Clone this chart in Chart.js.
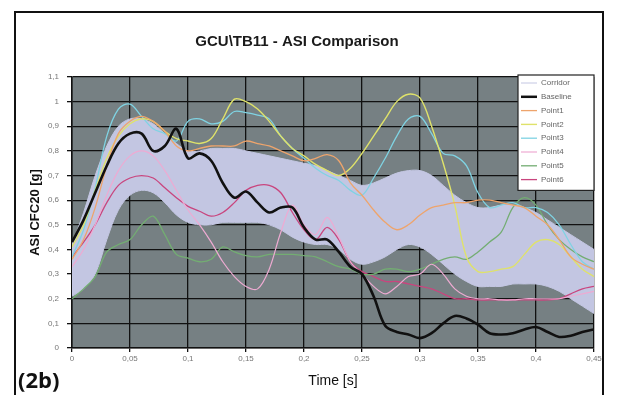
<!DOCTYPE html>
<html>
<head>
<meta charset="utf-8">
<script src="https://cdn.jsdelivr.net/npm/chart.js@4.4.1/dist/chart.umd.min.js"></script>
<style>
  html, body { margin: 0; padding: 0; background: #fff; }
  #wrap { width: 617px; height: 395px; }
</style>
</head>
<body>
<div id="wrap"><canvas id="asiChart" width="617" height="395"></canvas></div>
<script>
// time axis [s]
const time = [0, 0.01, 0.02, 0.03, 0.04, 0.05, 0.06, 0.07, 0.08, 0.09,
  0.1, 0.11, 0.12, 0.13, 0.14, 0.15, 0.16, 0.17, 0.18, 0.19,
  0.2, 0.21, 0.22, 0.23, 0.24, 0.25, 0.26, 0.27, 0.28, 0.29,
  0.3, 0.31, 0.32, 0.33, 0.34, 0.35, 0.36, 0.37, 0.38, 0.39,
  0.4, 0.41, 0.42, 0.43, 0.44, 0.45];

const corridorUpper = [0.42, 0.55, 0.70, 0.82, 0.90, 0.93, 0.93, 0.91, 0.87, 0.83,
  0.80, 0.80, 0.81, 0.81, 0.81, 0.80, 0.79, 0.78, 0.77, 0.76,
  0.75, 0.74, 0.72, 0.70, 0.68, 0.66, 0.67, 0.69, 0.71, 0.72,
  0.72, 0.70, 0.66, 0.62, 0.59, 0.57, 0.57, 0.58, 0.58, 0.57,
  0.55, 0.52, 0.49, 0.46, 0.43, 0.40];
const corridorLower = [0.21, 0.24, 0.30, 0.44, 0.56, 0.62, 0.64, 0.63, 0.59, 0.54,
  0.51, 0.50, 0.50, 0.51, 0.51, 0.51, 0.51, 0.50, 0.48, 0.45,
  0.43, 0.42, 0.42, 0.40, 0.36, 0.34, 0.35, 0.37, 0.40, 0.42,
  0.41, 0.38, 0.34, 0.30, 0.27, 0.25, 0.25, 0.25, 0.26, 0.26,
  0.26, 0.25, 0.23, 0.20, 0.17, 0.14];
const baseline = [0.43, 0.52, 0.63, 0.74, 0.83, 0.87, 0.87, 0.80, 0.82, 0.89,
  0.77, 0.79, 0.76, 0.67, 0.61, 0.635, 0.59, 0.55, 0.57, 0.57,
  0.49, 0.44, 0.44, 0.39, 0.33, 0.30, 0.21, 0.09, 0.065, 0.055,
  0.04, 0.06, 0.10, 0.13, 0.12, 0.095, 0.06, 0.055, 0.06, 0.075,
  0.085, 0.065, 0.045, 0.05, 0.065, 0.075];
const point1 = [0.36, 0.44, 0.57, 0.74, 0.87, 0.92, 0.94, 0.92, 0.88, 0.82,
  0.80, 0.81, 0.82, 0.82, 0.82, 0.84, 0.83, 0.82, 0.80, 0.78,
  0.76, 0.77, 0.785, 0.76, 0.67, 0.62, 0.56, 0.51, 0.48, 0.50,
  0.54, 0.57, 0.58, 0.59, 0.59, 0.60, 0.60, 0.59, 0.58, 0.57,
  0.535, 0.50, 0.44, 0.37, 0.34, 0.32];
const point2 = [0.41, 0.50, 0.64, 0.77, 0.86, 0.91, 0.93, 0.92, 0.88, 0.85,
  0.84, 0.83, 0.85, 0.93, 1.01, 1.00, 0.97, 0.92, 0.86, 0.81,
  0.78, 0.745, 0.72, 0.70, 0.73, 0.79, 0.86, 0.93, 1.00, 1.03,
  1.015, 0.90, 0.75, 0.58, 0.37, 0.31, 0.31, 0.32, 0.33, 0.38,
  0.43, 0.44, 0.42, 0.37, 0.32, 0.29];
const point3 = [0.37, 0.48, 0.65, 0.86, 0.97, 0.99, 0.94, 0.89, 0.87, 0.84,
  0.92, 0.93, 0.91, 0.92, 0.96, 0.955, 0.945, 0.93, 0.86, 0.81,
  0.77, 0.73, 0.70, 0.68, 0.64, 0.62, 0.69, 0.77, 0.86, 0.93,
  0.94, 0.87, 0.79, 0.78, 0.74, 0.63, 0.57, 0.58, 0.59, 0.57,
  0.57, 0.55, 0.50, 0.42, 0.35, 0.32];
const point4 = [0.33, 0.40, 0.50, 0.62, 0.72, 0.78, 0.80, 0.78, 0.72, 0.64,
  0.56, 0.50, 0.43, 0.35, 0.29, 0.25, 0.24, 0.32, 0.47, 0.58,
  0.50, 0.46, 0.53, 0.45, 0.35, 0.30, 0.25, 0.22, 0.25, 0.29,
  0.30, 0.34, 0.30, 0.24, 0.21, 0.20, 0.20, 0.195, 0.195, 0.20,
  0.20, 0.20, 0.20, 0.21, 0.22, 0.23];
const point5 = [0.20, 0.24, 0.29, 0.39, 0.42, 0.44, 0.50, 0.535, 0.46, 0.38,
  0.365, 0.35, 0.36, 0.41, 0.39, 0.375, 0.37, 0.38, 0.38, 0.38,
  0.375, 0.37, 0.35, 0.33, 0.32, 0.30, 0.30, 0.32, 0.32, 0.31,
  0.32, 0.34, 0.36, 0.37, 0.36, 0.39, 0.43, 0.47, 0.57, 0.61,
  0.58, 0.50, 0.44, 0.40, 0.37, 0.35];
const point6 = [0.37, 0.43, 0.50, 0.59, 0.66, 0.69, 0.70, 0.69, 0.65, 0.61,
  0.575, 0.555, 0.535, 0.55, 0.59, 0.64, 0.66, 0.66, 0.63, 0.55,
  0.48, 0.44, 0.49, 0.44, 0.35, 0.31, 0.29, 0.27, 0.27, 0.26,
  0.25, 0.24, 0.22, 0.20, 0.20, 0.195, 0.195, 0.195, 0.195, 0.195,
  0.195, 0.195, 0.20, 0.22, 0.24, 0.25];

const xTickLabels = ['0', '0,05', '0,1', '0,15', '0,2', '0,25', '0,3', '0,35', '0,4', '0,45'];
const yTickLabels = ['0', '0,1', '0,2', '0,3', '0,4', '0,5', '0,6', '0,7', '0,8', '0,9', '1', '1,1'];

const FONT = "'Liberation Sans', Arial, sans-serif";
const PLOT_BG = '#768083';
const CORRIDOR = '#c3c6e2';

const xy = (vals) => vals.map((v, i) => ({ x: time[i], y: v }));

function line(label, vals, color, width) {
  return {
    label: label,
    data: xy(vals),
    borderColor: color,
    borderWidth: width,
    pointRadius: 0,
    tension: 0.35,
    fill: false,
    order: 1
  };
}

// grey plot area + outer frame
const frame = {
  id: 'frame',
  beforeDraw(chart) {
    const { ctx, chartArea: a } = chart;
    ctx.save();
    ctx.fillStyle = '#fff';
    ctx.fillRect(0, 0, chart.width, chart.height);
    ctx.fillStyle = PLOT_BG;
    ctx.fillRect(a.left, a.top, a.right - a.left, a.bottom - a.top);
    ctx.restore();
  },
  afterDraw(chart) {
    const ctx = chart.ctx;
    ctx.save();
    ctx.strokeStyle = '#111';
    ctx.lineWidth = 2;
    ctx.strokeRect(15, 12, 588, 400);
    ctx.fillStyle = '#111';
    ctx.font = "bold 22px 'Open Sans', " + FONT;
    ctx.textBaseline = 'middle';
    ctx.fillText('(2b)', 18, 382);
    ctx.restore();
  }
};

// legend box inside the top right of the plot
const boxLegend = {
  id: 'boxLegend',
  afterDraw(chart) {
    const { ctx, chartArea: a } = chart;
    const items = chart.data.datasets.filter(d => d.label);
    const w = 76, rowH = 13.8;
    const x0 = a.right - w, y0 = a.top - 2;
    const h = items.length * rowH + 5;
    ctx.save();
    ctx.fillStyle = '#fff';
    ctx.fillRect(x0, y0, w, h);
    ctx.strokeStyle = '#222';
    ctx.lineWidth = 1.2;
    ctx.strokeRect(x0, y0, w, h);
    ctx.font = '8px ' + FONT;
    ctx.textBaseline = 'middle';
    items.forEach((d, i) => {
      const y = y0 + 8 + i * rowH;
      ctx.strokeStyle = d.borderColor;
      ctx.lineWidth = Math.min(d.borderWidth, 2.5);
      ctx.beginPath();
      ctx.moveTo(x0 + 3, y);
      ctx.lineTo(x0 + 19, y);
      ctx.stroke();
      ctx.fillStyle = '#666';
      ctx.fillText(d.label, x0 + 23, y);
    });
    ctx.restore();
  }
};

new Chart(document.getElementById('asiChart'), {
  type: 'line',
  data: {
    datasets: [
      {
        label: 'Corridor',
        data: xy(corridorUpper),
        borderColor: CORRIDOR,
        backgroundColor: CORRIDOR,
        borderWidth: 1,
        pointRadius: 0,
        tension: 0.35,
        fill: '+1',
        order: 10
      },
      {
        label: '',
        data: xy(corridorLower),
        borderColor: CORRIDOR,
        borderWidth: 1,
        pointRadius: 0,
        tension: 0.35,
        fill: false,
        order: 10
      },
      Object.assign(line('Baseline', baseline, '#111', 2.6), { order: 0 }),
      line('Point1', point1, '#eea46c', 1.3),
      line('Point2', point2, '#dfe26a', 1.4),
      line('Point3', point3, '#7fd3e3', 1.3),
      line('Point4', point4, '#eeaad2', 1.2),
      line('Point5', point5, '#73ad72', 1.3),
      line('Point6', point6, '#c9457e', 1.3)
    ]
  },
  options: {
    responsive: false,
    animation: false,
    devicePixelRatio: 1,
    layout: { padding: { left: 0, right: 23, top: 0, bottom: 0 } },
    plugins: {
      legend: { display: false },
      tooltip: { enabled: false },
      title: {
        display: true,
        text: 'GCU\\TB11 - ASI Comparison',
        color: '#1a1a1a',
        font: { family: FONT, size: 15, weight: 'bold' },
        padding: { top: 33, bottom: 26 }
      }
    },
    scales: {
      x: {
        type: 'linear',
        min: 0,
        max: 0.45,
        afterFit: (s) => { s.height = 47; },
        ticks: {
          stepSize: 0.05,
          color: '#777',
          padding: 2,
          maxRotation: 0,
          font: { family: FONT, size: 8 },
          callback: (v, i) => xTickLabels[i]
        },
        grid: { color: '#111', lineWidth: 1.3, tickLength: 4 },
        border: { color: '#111', width: 1.5 },
        title: {
          display: true,
          text: 'Time [s]',
          color: '#111',
          font: { family: "'Liberation Sans Narrow', " + FONT, size: 14 },
          padding: { top: 0, bottom: 5 }
        }
      },
      y: {
        min: 0,
        max: 1.1,
        afterFit: (s) => { s.width = 72; },
        ticks: {
          stepSize: 0.1,
          color: '#777',
          padding: 8,
          font: { family: FONT, size: 8 },
          callback: (v, i) => yTickLabels[i]
        },
        grid: { color: '#111', lineWidth: 1.3, tickLength: 5 },
        border: { color: '#111', width: 1.5 },
        title: {
          display: true,
          text: 'ASI CFC20 [g]',
          color: '#111',
          font: { family: FONT, size: 13, weight: 'bold' },
          padding: { top: 28, bottom: 0 }
        }
      }
    }
  },
  plugins: [frame, boxLegend]
});
</script>
</body>
</html>
